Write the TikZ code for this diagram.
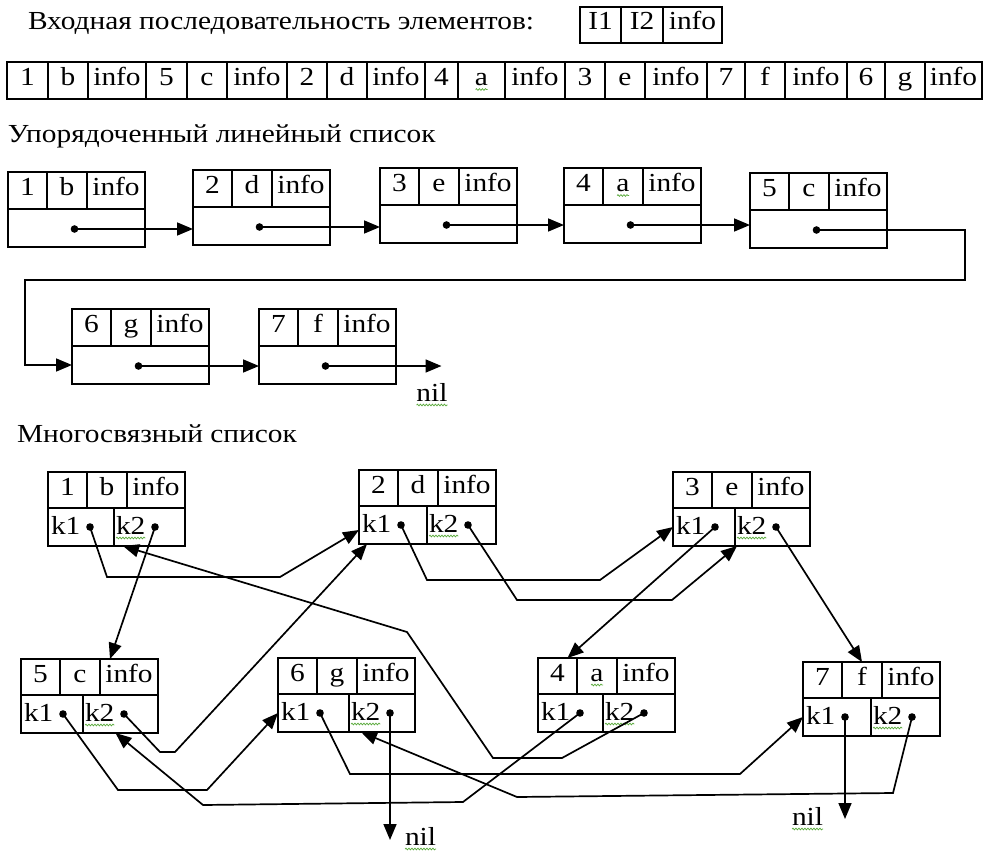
\documentclass[tikz,border=0pt]{standalone}
\usepackage{fontspec}
\setmainfont{Liberation Serif}[FakeStretch=1.13]
\usetikzlibrary{arrows.meta,calc,decorations.pathmorphing}
\definecolor{spell}{RGB}{90,170,60}

% one record of the multi-linked list: #1 name, #2 x, #3 y, #4 key, #5 letter, #6 width of the k1 cell
\newcommand\mrec[6]{%
  \node[cell, minimum width=39, minimum height=36] (#1-n) at (#2,#3) {#4};
  \node[cell, minimum width=40, minimum height=36] (#1-l) at (#1-n.north east) {#5};
  \node[cell, minimum width=58, minimum height=36] (#1-i) at (#1-l.north east) {info};
  \node[cell, minimum width=#6, minimum height=38] (#1-k1) at (#1-n.south west) {};
  \node[cell, minimum width={137-#6}, minimum height=38] (#1-k2) at (#1-k1.north east) {};
  \node[txt, anchor=base west] (#1-t1) at ($(#1-k1.south west)+(3,-12)$) {k1};
  \node[txt, anchor=base west] (#1-t2) at ($(#1-k2.south west)+(2,-12)$) {k2};
  \coordinate (#1-d1) at ($(#1-k1.south west)+(42,-19)$);
  \coordinate (#1-d2) at ($(#1-k2.south west)+(41,-19)$);
  \draw[wavy] ([yshift=-4pt]#1-t2.base west) -- ([yshift=-4pt]#1-t2.base east);
}

% one record of the ordered linear list: #1 name, #2 x, #3 y, #4 key, #5 letter
\newcommand\lrec[5]{%
  \node[cell, minimum width=39, minimum height=37] (#1-n) at (#2,#3) {#4};
  \node[cell, minimum width=40, minimum height=37] (#1-l) at (#1-n.north east) {#5};
  \node[cell, minimum width=58, minimum height=37] (#1-i) at (#1-l.north east) {info};
  \node[cell, minimum width=137, minimum height=38] (#1-b) at (#1-n.south west) {};
  \coordinate (#1-d) at ($(#1-b.center)+(-2,1)$);
}

\begin{document}
\begin{tikzpicture}[x=1pt, y=-1pt,
  every node/.style={inner sep=0pt, outer sep=0pt},
  txt/.style={font=\fontsize{26}{29}\selectfont},
  cell/.style={draw, line width=1.3pt, anchor=north west, txt,
               text height=15pt, text depth=5pt},
  link/.style={line width=1.7pt, -{Triangle[length=16pt, width=13pt]}},
  group/.style={line width=2.6pt},
  wavy/.style={draw=spell, line width=0.7pt, decorate,
               decoration={snake, amplitude=0.9pt, segment length=3pt}}]

\useasboundingbox (0,0) rectangle (983,851);

% ---------- input sequence ----------
\node[txt, anchor=base west] (t-in) at (28,30) {Входная последовательность элементов:};
\foreach \x/\w/\t [count=\i] in {580/41/I1, 621/42/I2, 663/59/info}
  \node[cell, minimum width=\w, minimum height=36] (hd-\i) at (\x,7) {\t};

\foreach \x/\w/\t [count=\i] in {7/41/1, 48/40/b, 88/58/info,
    146/41/5, 187/40/c, 227/60/info,
    287/40/2, 327/40/d, 367/58/info,
    425/33/4, 458/47/a, 505/60/info,
    565/40/3, 605/40/e, 645/62/info,
    707/38/7, 745/40/f, 785/62/info,
    847/38/6, 885/40/g, 925/57/info}
  \node[cell, minimum width=\w, minimum height=37] (in-\i) at (\x,62) {\t};
\foreach \i in {3,6,9,12,15,18}
  \draw[group] (in-\i.north east) -- (in-\i.south east);
\draw[wavy] ([xshift=-6pt, yshift=-4pt]in-11.base) -- ([xshift=6pt, yshift=-4pt]in-11.base);

% ---------- ordered linear list ----------
\node[txt, anchor=base west] (t-lin) at (8,142) {Упорядоченный линейный список};
\lrec{L1}{8}{172}{1}{b}
\lrec{L2}{193}{170}{2}{d}
\lrec{L3}{380}{168}{3}{e}
\lrec{L4}{564}{168}{4}{a}
\lrec{L5}{750}{173}{5}{c}
\lrec{L6}{72}{309}{6}{g}
\lrec{L7}{259}{309}{7}{f}
\draw[wavy] ([xshift=-6pt, yshift=-4pt]L4-l.base) -- ([xshift=6pt, yshift=-4pt]L4-l.base);

\draw[link] (L1-d) -- (L1-d -| L2-b.west);
\draw[link] (L2-d) -- (L2-d -| L3-b.west);
\draw[link] (L3-d) -- (L3-d -| L4-b.west);
\draw[link] (L4-d) -- (L4-d -| L5-b.west);
\coordinate (wrapR) at (965,280);
\coordinate (wrapL) at (25,280);
\draw[link] (L5-d) -| (wrapR) -- (wrapL) |- (L6-b.west);
\draw[link] (L6-d) -- (L6-d -| L7-b.west);
\coordinate (L-end) at ($(L7-d)+(116,0)$);
\draw[link] (L7-d) -- (L-end);
\node[txt, anchor=base] (nil-l) at (432,401) {nil};
\draw[wavy] ([yshift=-4pt]nil-l.base west) -- ([yshift=-4pt]nil-l.base east);
\foreach \n in {L1,L2,L3,L4,L5,L6,L7}
  \fill (\n-d) circle (3.8pt);

% ---------- multi-linked list ----------
\node[txt, anchor=base west] (t-multi) at (17,442) {Многосвязный список};
\mrec{M1}{48}{472}{1}{b}{66}
\mrec{M2}{359}{470}{2}{d}{68}
\mrec{M3}{673}{472}{3}{e}{62}
\mrec{M5}{21}{659}{5}{c}{62}
\mrec{M6}{278}{658}{6}{g}{71}
\mrec{M4}{538}{658}{4}{a}{65}
\mrec{M7}{803}{662}{7}{f}{68}
\draw[wavy] ([xshift=-6pt, yshift=-4pt]M4-l.base) -- ([xshift=6pt, yshift=-4pt]M4-l.base);

% k1 chain: 1 -> 2 -> 3 -> 4 -> 5 -> 6 -> 7 -> nil
\draw[link] (M1-d1) -- (107,577) -- (280,577) -- ([yshift=-5pt]M2-k1.west);
\draw[link] (M2-d1) -- (427,580) -- (600,580) -- (M3-k1.west);
\draw[link] (M3-d1) -- ([xshift=10pt]M4-n.north);
\draw[link] (M4-d1) -- (463,802) -- (203,805) -- ([xshift=-5pt]M5-k2.south);
\draw[link] (M5-d1) -- (118,790) -- (207,790) -- (M6-k1.west);
\draw[link] (M6-d1) -- (350,774) -- (740,774) -- (M7-k1.west);
\coordinate (M7-end) at ($(M7-d1)+(0,102)$);
\draw[link] (M7-d1) -- (M7-end);

% k2 chain: a -> b -> c -> d -> e -> f -> g -> nil
\draw[link] (M4-d2) -- (562,758) -- (493,758) -- (407,632) -- ([xshift=9pt]M1-k2.south west);
\draw[link] (M1-d2) -- ([xshift=10pt]M5-i.north west);
\draw[link] (M5-d2) -- (160,752) -- (175,752) -- ([xshift=8pt]M2-k1.south west);
\draw[link] (M2-d2) -- (517,600) -- (672,600) -- ([xshift=2pt]M3-k2.south west);
\draw[link] (M3-d2) -- (M7-l.north);
\draw[link] (M7-d2) -- (893,793) -- (517,797) -- ([xshift=12pt]M6-k2.south west);
\coordinate (M6-end) at ($(M6-d2)+(0,127)$);
\draw[link] (M6-d2) -- (M6-end);

\node[txt, anchor=base west] (nil-6) at (405,845) {nil};
\node[txt, anchor=base west] (nil-7) at (792,825) {nil};
\draw[wavy] ([yshift=-4pt]nil-6.base west) -- ([yshift=-4pt]nil-6.base east);
\draw[wavy] ([yshift=-4pt]nil-7.base west) -- ([yshift=-4pt]nil-7.base east);

\foreach \n in {M1,M2,M3,M4,M5,M6,M7} {
  \fill (\n-d1) circle (3.8pt);
  \fill (\n-d2) circle (3.8pt);
}
\end{tikzpicture}
\end{document}
